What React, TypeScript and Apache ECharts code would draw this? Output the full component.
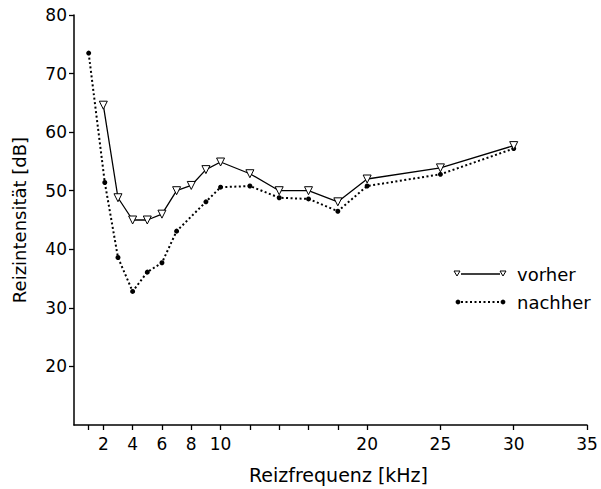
import React, { useEffect, useRef } from "react";
import * as echarts from "echarts";

const freqVorher = [2, 3, 4, 5, 6, 7, 8, 9, 10, 12, 14, 16, 18, 20, 25, 30];
const dbVorher = [64.6, 48.8, 45, 45, 46, 50, 50.9, 53.6, 54.9, 52.9, 50, 50, 48.1, 52, 53.9, 57.7];

const freqNachher = [1, 2.1, 3, 4, 5, 6, 7, 9, 10, 12, 14, 16, 18, 20, 25, 30];
const dbNachher = [73.5, 51.4, 38.6, 32.8, 36.1, 37.7, 43.1, 48.1, 50.6, 50.8, 48.8, 48.6, 46.5, 50.8, 52.8, 57.2];

const xTickValues = [1, 2, 4, 6, 8, 10, 12, 14, 16, 18, 20, 25, 30, 35];
const xLabelValues = [2, 4, 6, 8, 10, 20, 25, 30, 35];
const yLabelValues = [20, 30, 40, 50, 60, 70, 80];

const seriesNames = ["vorher", "nachher"];

const FONT = "DejaVu Sans";

export default function App() {
  const ref = useRef<HTMLDivElement>(null);

  useEffect(() => {
    if (!ref.current) return;
    const chart = echarts.init(ref.current, null, { renderer: "svg" });
    const zip = (xs: number[], ys: number[]) => xs.map((x, i) => [x, ys[i]]);

    chart.setOption({
      animation: false,
      backgroundColor: "#ffffff",
      textStyle: { fontFamily: FONT, color: "#000" },
      grid: { left: 74, right: 14, top: 15, bottom: 61, containLabel: false },
      xAxis: {
        type: "value",
        min: 0,
        max: 35,
        name: "Reizfrequenz [kHz]",
        nameLocation: "middle",
        nameGap: 40,
        nameTextStyle: { fontFamily: FONT, fontSize: 19, color: "#000", padding: [0, 0, 0, 16] },
        axisLine: { show: true, lineStyle: { color: "#000", width: 1.5 } },
        axisTick: { show: true, length: 5, lineStyle: { color: "#000", width: 1.3 }, customValues: xTickValues },
        axisLabel: { fontFamily: FONT, fontSize: 17, color: "#000", margin: 10, customValues: xLabelValues },
        splitLine: { show: false },
      },
      yAxis: {
        type: "value",
        min: 10,
        max: 80,
        interval: 10,
        name: "Reizintensität [dB]",
        nameLocation: "middle",
        nameGap: 46,
        nameTextStyle: { fontFamily: FONT, fontSize: 18, color: "#000" },
        axisLine: { show: true, lineStyle: { color: "#000", width: 1.5 } },
        axisTick: { show: true, length: 5, lineStyle: { color: "#000", width: 1.3 }, customValues: yLabelValues },
        axisLabel: { fontFamily: FONT, fontSize: 17, color: "#000", margin: 7, customValues: yLabelValues },
        splitLine: { show: false },
      },
      series: [
        {
          name: seriesNames[1],
          type: "line",
          data: zip(freqNachher, dbNachher),
          symbol: "circle",
          symbolSize: 5,
          itemStyle: { color: "#000" },
          lineStyle: { color: "#000", width: 2, type: [2, 2.5] },
          z: 2,
        },
        {
          name: seriesNames[0],
          type: "line",
          data: zip(freqVorher, dbVorher),
          symbol: "triangle",
          symbolRotate: 180,
          symbolSize: 8,
          itemStyle: { color: "#fff", borderColor: "#000", borderWidth: 1 },
          lineStyle: { color: "#000", width: 1.3 },
          z: 3,
        },
      ],
      graphic: [
        { type: "line", shape: { x1: 461, y1: 274, x2: 500, y2: 274 }, style: { stroke: "#000", lineWidth: 1.3 } },
        { type: "polygon", shape: { points: [[454, 271], [460, 271], [457, 276]] }, style: { fill: "#fff", stroke: "#000", lineWidth: 1 } },
        { type: "polygon", shape: { points: [[500, 271], [506, 271], [503, 276]] }, style: { fill: "#fff", stroke: "#000", lineWidth: 1 } },
        { type: "text", x: 517, y: 274, style: { text: seriesNames[0], fontFamily: FONT, fontSize: 18, fill: "#000", verticalAlign: "middle", align: "left" } },
        { type: "line", shape: { x1: 461, y1: 302, x2: 500, y2: 302 }, style: { stroke: "#000", lineWidth: 2, lineDash: [2, 2.5] } },
        { type: "circle", shape: { cx: 458, cy: 302, r: 2.4 }, style: { fill: "#000" } },
        { type: "circle", shape: { cx: 503, cy: 302, r: 2.4 }, style: { fill: "#000" } },
        { type: "text", x: 517, y: 302, style: { text: seriesNames[1], fontFamily: FONT, fontSize: 18, fill: "#000", verticalAlign: "middle", align: "left" } },
      ],
    });

    return () => chart.dispose();
  }, []);

  return (
    <div
      ref={ref}
      style={{ position: "fixed", left: 0, top: 0, width: 601, height: 489, background: "#fff" }}
    />
  );
}
